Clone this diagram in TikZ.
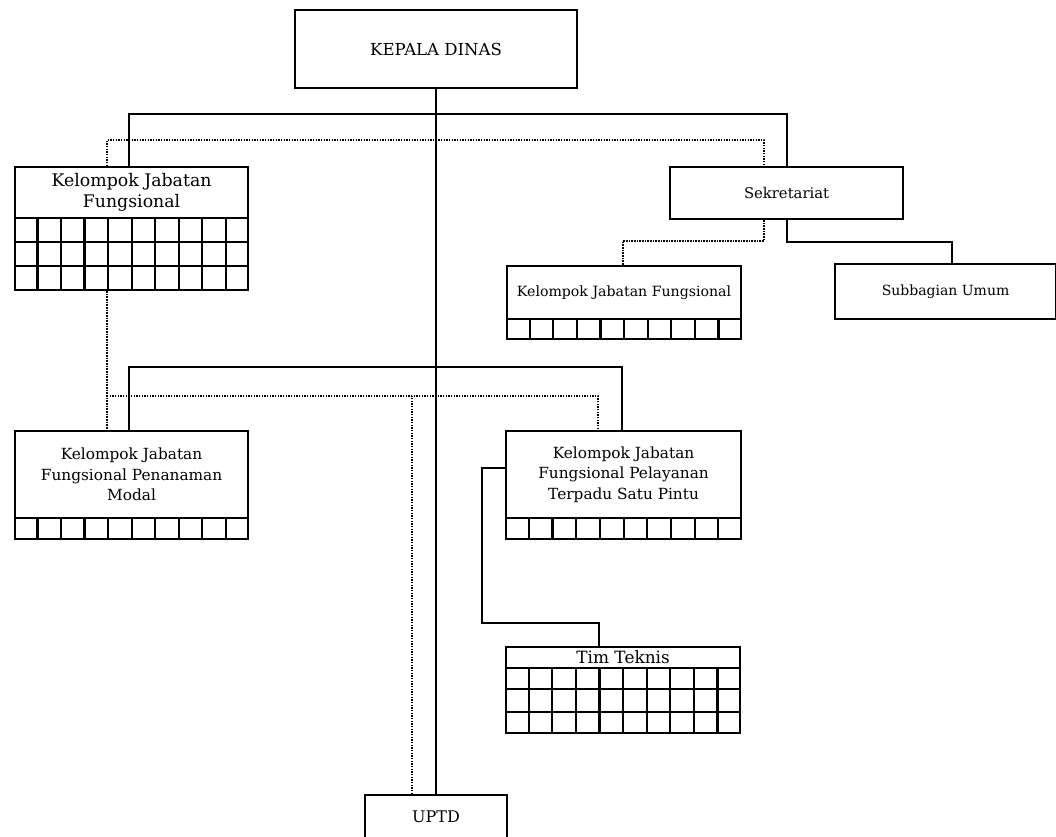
\documentclass[tikz,border=0pt]{standalone}
\usepackage{fontspec}
\setmainfont{DejaVu Serif}
\usetikzlibrary{calc}
\tikzset{
  frame/.style={line width=1.6pt},
  hbox/.style={draw, frame, rectangle, inner sep=0pt, align=center, anchor=north west},
  gbox/.style={draw, frame, rectangle, inner sep=0pt, anchor=north west},
  conn/.style={line width=1.6pt},
  dconn/.style={line width=1.4pt, dash pattern=on 1.1pt off 0.9pt},
}
\newcommand{\gridcols}[1]{\foreach \i in {1,...,9}{\draw[frame] ($(#1.north west)!\i/10!(#1.north east)$) -- ($(#1.south west)!\i/10!(#1.south east)$);}}
\newcommand{\gridrowsthree}[1]{\foreach \i in {1,2}{\draw[frame] ($(#1.north west)!\i/3!(#1.south west)$) -- ($(#1.north east)!\i/3!(#1.south east)$);}}
\begin{document}
\begin{tikzpicture}[x=0.75pt,y=-0.75pt]
\useasboundingbox (0,0) rectangle (1056,836);
% boxes
\node[hbox, minimum width=282*0.75pt, minimum height=78*0.75pt, font=\fontsize{12.4}{14}\selectfont] (kd) at (294,9) {KEPALA DINAS};
\node[hbox, minimum width=233*0.75pt, minimum height=51*0.75pt, font=\fontsize{13}{16}\selectfont] (kjf1) at (14,166) {Kelompok Jabatan\\Fungsional};
\node[gbox, minimum width=233*0.75pt, minimum height=72*0.75pt] (kjf1g) at (14,217) {};
\gridcols{kjf1g}\gridrowsthree{kjf1g}
\node[hbox, minimum width=233*0.75pt, minimum height=52*0.75pt, font=\fontsize{11.1}{14}\selectfont] (sek) at (669,166) {Sekretariat};
\node[hbox, minimum width=234*0.75pt, minimum height=53*0.75pt, font=\fontsize{10.6}{12}\selectfont] (kjf2) at (506,265) {Kelompok Jabatan Fungsional};
\node[gbox, minimum width=234*0.75pt, minimum height=20*0.75pt] (kjf2g) at (506,318) {};
\gridcols{kjf2g}
\node[hbox, minimum width=221*0.75pt, minimum height=55*0.75pt, font=\fontsize{10.5}{13}\selectfont] (sub) at (834,263) {Subbagian Umum};
\node[hbox, minimum width=233*0.75pt, minimum height=87*0.75pt, font=\fontsize{11.5}{15.5}\selectfont] (kjpm) at (14,430) {Kelompok Jabatan\\Fungsional Penanaman\\Modal};
\node[gbox, minimum width=233*0.75pt, minimum height=21*0.75pt] (kjpmg) at (14,517) {};
\gridcols{kjpmg}
\node[hbox, minimum width=235*0.75pt, minimum height=87*0.75pt, font=\fontsize{11.5}{15.5}\selectfont] (kjpt) at (505,430) {Kelompok Jabatan\\Fungsional Pelayanan\\Terpadu Satu Pintu};
\node[gbox, minimum width=235*0.75pt, minimum height=21*0.75pt] (kjptg) at (505,517) {};
\gridcols{kjptg}
\node[hbox, minimum width=234*0.75pt, minimum height=21*0.75pt, font=\fontsize{12.7}{14}\selectfont] (tim) at (505,646) {Tim Teknis};
\node[gbox, minimum width=234*0.75pt, minimum height=65*0.75pt] (timg) at (505,667) {};
\gridcols{timg}\gridrowsthree{timg}
\node[hbox, minimum width=142*0.75pt, minimum height=44*0.75pt, font=\fontsize{12}{14}\selectfont] (uptd) at (364,794) {UPTD};
% junctions
\coordinate (top) at (435,114);
\coordinate (dtop) at (435,140);
\coordinate (sj) at (870,242);
\coordinate (dj) at (700,241);
\coordinate (mj) at (435,367);
\coordinate (dm) at (435,396);
\coordinate (tk) at (482,623);
\coordinate (ud) at ($(uptd.north west)+(48,0)$);
% solid connectors
\draw[conn] (kd.south) -- (uptd.north);
\draw[conn] ($(kjf1.north west)+(115,0)$) |- (top) -| ($(sek.north west)+(118,0)$);
\draw[conn] ($(sek.south west)+(118,0)$) |- (sj) -| ($(sub.north west)+(118,0)$);
\draw[conn] ($(kjpm.north west)+(115,0)$) |- (mj) -| ($(kjpt.north west)+(117,0)$);
\draw[conn] ($(kjpt.north west)+(0,38)$) -| (tk) -| ($(tim.north west)+(94,0)$);
% dotted connectors
\draw[dconn] ($(kjf1.north west)+(93,0)$) |- (dtop) -| ($(sek.north west)+(95,0)$);
\draw[dconn] ($(sek.south west)+(95,0)$) |- (dj) -| ($(kjf2.north west)+(117,0)$);
\draw[dconn] ($(kjf1g.south west)+(93,0)$) -- ($(kjpm.north west)+(93,0)$);
\draw[dconn] ($(kjpm.north west)+(93,-34)$) |- (dm) -| ($(kjpt.north west)+(93,0)$);
\draw[dconn] (ud) -- (ud |- dm);
\end{tikzpicture}
\end{document}
